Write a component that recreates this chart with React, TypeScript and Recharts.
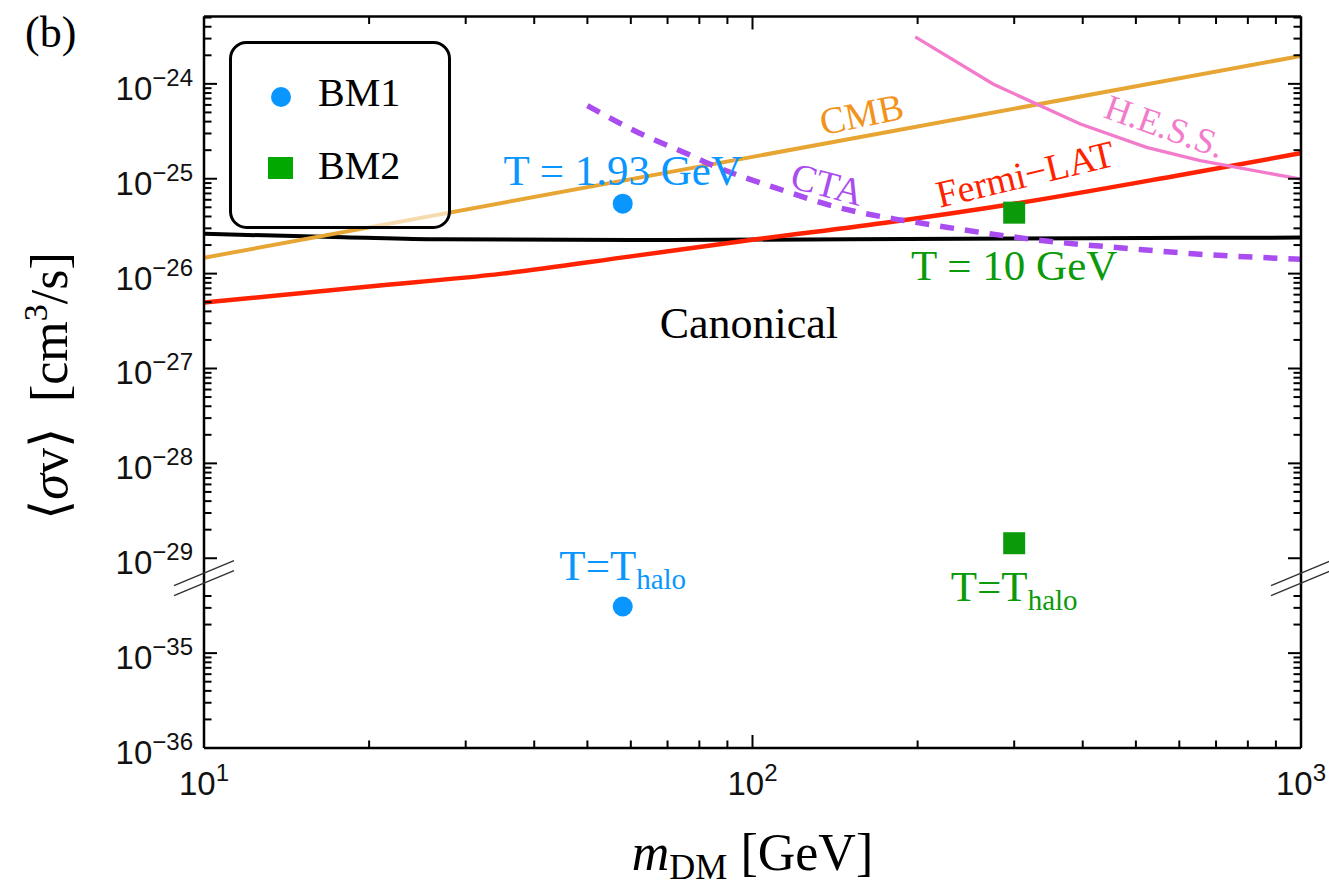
import { ComposedChart, Line, Scatter, XAxis, YAxis, ReferenceDot, Legend } from 'recharts'

// Dark-matter mass [GeV] and <σv> [cm^3/s] along each constraint curve
const canonicalMass = [10, 14, 18, 27, 60, 150, 400, 1000]
const canonicalSigma = [2.63e-26, 2.5e-26, 2.42e-26, 2.3e-26, 2.26e-26, 2.3e-26, 2.36e-26, 2.4e-26]

const cmbMass = [10, 100, 1000]
const cmbSigma = [1.47e-26, 1.7e-25, 1.97e-24]

const fermiMass = [10, 20, 35, 60, 100, 180, 300, 600, 1000]
const fermiSigma = [4.96e-27, 7.3e-27, 1.0e-26, 1.52e-26, 2.27e-26, 3.52e-26, 5.45e-26, 1.09e-25, 1.86e-25]

const ctaMass = [50, 62, 76, 85, 114, 143, 180, 200, 270, 340, 490, 635, 1000]
const ctaSigma = [
  5.9e-25, 3.05e-25, 1.83e-25, 1.37e-25, 7.5e-26, 5.0e-26, 3.8e-26, 3.45e-26, 2.64e-26, 2.22e-26, 1.83e-26,
  1.62e-26, 1.42e-26,
]

const hessMass = [198, 275, 396, 523, 655, 1000]
const hessSigma = [3.13e-24, 9.9e-25, 3.77e-25, 2.14e-25, 1.55e-25, 9.9e-26]

// Benchmarks: freeze-out value and the value at the halo temperature
const bmNames = ['BM1', 'BM2']
const bm1Mass = [58, 58]
const bm1Sigma = [5.46e-26, 3.1e-35]
const bm1Label = ['T = 1.93 GeV', 'T=T']
const bm1LabelSub = ['', 'halo']
const bm2Mass = [300, 300]
const bm2Sigma = [4.39e-26, 1.44e-29]
const bm2Label = ['T = 10 GeV', 'T=T']
const bm2LabelSub = ['', 'halo']

// Axis ticks
const xMajor = [10, 100, 1000]
const xMinor = [20, 30, 40, 50, 60, 70, 80, 90, 200, 300, 400, 500, 600, 700, 800, 900]
const yExponents = [-36, -35, -29, -28, -27, -26, -25, -24]

// The y axis is log10 with a break: 1e-29 sits directly on top of 1e-34
const BREAK_HI = -29
const BREAK_LO = -34
const toAxis = (v: number) => {
  const e = Math.log10(v)
  return e >= BREAK_HI ? e : e + (BREAK_HI - BREAK_LO)
}
const expToAxis = (e: number) => (e >= BREAK_HI ? e : e + (BREAK_HI - BREAK_LO))
const axisToExp = (d: number) => (d >= BREAK_HI - 0.001 ? d : d - (BREAK_HI - BREAK_LO))

const yMajor = yExponents.map(expToAxis)
const Y_MIN = -31
const Y_MAX = -23.29
const yMinor: number[] = []
for (let d = -31; d < -23; d++) {
  for (let k = 2; k <= 9; k++) {
    const t = d + Math.log10(k)
    if (d === -30 && k > 4) continue // hidden by the break
    if (t < Y_MAX) yMinor.push(t)
  }
}

const toRows = (mass: number[], sigma: number[]) => mass.map((m, i) => ({ m, d: toAxis(sigma[i]) }))
const toPoints = (mass: number[], sigma: number[], label: string[], sub: string[]) =>
  mass.map((m, i) => ({ m, d: toAxis(sigma[i]), label: label[i], sub: sub[i], i }))

const bm1Points = toPoints(bm1Mass, bm1Sigma, bm1Label, bm1LabelSub)
const bm2Points = toPoints(bm2Mass, bm2Sigma, bm2Label, bm2LabelSub)

const SERIF = '"Liberation Serif", "Times New Roman", Times, serif'
const SANS = '"Liberation Sans", Arial, Helvetica, sans-serif'
const BLUE = '#0A96FF'
const GREEN = '#0A9A0A'
const LEGEND_GREEN = '#00A800'

const curves = [
  { key: 'canonical', data: toRows(canonicalMass, canonicalSigma), color: '#000000', width: 4, type: 'monotone', dash: undefined },
  { key: 'cmb', data: toRows(cmbMass, cmbSigma), color: '#E7A634', width: 4, type: 'linear', dash: undefined },
  { key: 'fermi', data: toRows(fermiMass, fermiSigma), color: '#FF2200', width: 4.5, type: 'monotone', dash: undefined },
  { key: 'cta', data: toRows(ctaMass, ctaSigma), color: '#A94CF0', width: 5.5, type: 'monotone', dash: '14 11' },
  { key: 'hess', data: toRows(hessMass, hessSigma), color: '#F27CCB', width: 3.3, type: 'linear', dash: undefined },
] as const

// Curve names written along the curves
const annotations = [
  { text: 'CMB', m: 158, v: 4.83e-25, angle: -11.5, color: '#F2931C', size: 38 },
  { text: 'CTA', m: 137, v: 8.85e-26, angle: 14.7, color: '#A94CF0', size: 38 },
  { text: 'Fermi\u2212LAT', m: 314, v: 1.13e-25, angle: -13.5, color: '#FF2200', size: 38 },
  { text: 'H.E.S.S.', m: 565, v: 3.61e-25, angle: 19.6, color: '#F27CCB', size: 36 },
  { text: 'Canonical', m: 98.5, v: 3.05e-27, angle: 0, color: '#000000', size: 44 },
]

const frame = { stroke: '#000', strokeWidth: 2.5 }
const tickStroke = { stroke: '#000', strokeWidth: 2 }
// mirrored axes only draw the frame and ticks; a tiny size keeps them rendered without shifting each other
const THIN = 0.01
const NoLabel = () => <g />

function XTick({ x, y, payload }: any) {
  const exp = Math.round(Math.log10(payload.value))
  return (
    <text x={x} y={y + 47} textAnchor="middle" fontFamily={SANS} fill="#111">
      <tspan fontSize={33}>10</tspan>
      <tspan fontSize={24} dy={-14}>
        {exp}
      </tspan>
    </text>
  )
}

function YTick({ x, y, payload }: any) {
  const exp = Math.round(axisToExp(payload.value))
  return (
    <text x={x} y={y + 16} textAnchor="end" fontFamily={SANS} fill="#111">
      <tspan fontSize={33}>10</tspan>
      <tspan fontSize={24} dy={-14}>
        {`\u2212${-exp}`}
      </tspan>
    </text>
  )
}

const tempLabel = (color: string, dys: number[]) => (p: any) => {
  const { cx, cy, payload } = p
  return (
    <text x={cx} y={cy + dys[payload.i]} textAnchor="middle" fontFamily={SERIF} fontSize={43} fill={color}>
      {payload.label}
      {payload.sub ? (
        <tspan fontSize={29} dy={9}>
          {payload.sub}
        </tspan>
      ) : null}
    </text>
  )
}

function BreakMark({ cx, cy }: any) {
  return (
    <g stroke="#333" strokeWidth={1.5}>
      <line x1={cx - 30} y1={cy - 5 + 12.5} x2={cx + 30} y2={cy - 5 - 12.5} />
      <line x1={cx - 30} y1={cy + 5 + 12.5} x2={cx + 30} y2={cy + 5 - 12.5} />
    </g>
  )
}

function LegendBox() {
  return (
    <svg width={222} height={188} style={{ display: 'block' }}>
      <rect x={1.5} y={1.5} width={219} height={185} rx={16} fill="rgba(255,255,255,0.6)" stroke="#000" strokeWidth={3} />
      <circle cx={52} cy={56} r={10} fill={BLUE} />
      <text x={89} y={65} fontFamily={SERIF} fontSize={40} fill="#000">
        {bmNames[0]}
      </text>
      <rect x={39} y={116} width={25} height={22} fill={LEGEND_GREEN} />
      <text x={89} y={138} fontFamily={SERIF} fontSize={40} fill="#000">
        {bmNames[1]}
      </text>
    </svg>
  )
}

const xCommon = {
  type: 'number' as const,
  scale: 'log' as const,
  domain: [10, 1000],
  allowDataOverflow: true,
  interval: 0 as const,
}
const yCommon = {
  type: 'number' as const,
  domain: [Y_MIN, Y_MAX],
  allowDataOverflow: true,
  interval: 0 as const,
}

// hidden series so every frame axis has something attached
const axisPairs = [
  ['xb', 'yl'],
  ['xbm', 'ylm'],
  ['xt', 'yr'],
  ['xtm', 'yrm'],
]
const anchorRows = toRows(cmbMass, cmbSigma)

export default function App() {
  return (
    <div style={{ position: 'absolute', left: 0, top: 0, width: 1329, height: 890, background: '#fff' }}>
      <ComposedChart width={1329} height={890} margin={{ top: 16.5, right: 28, left: 84, bottom: 102 }}>
        {/* tick labels */}
        <XAxis xAxisId="x" dataKey="m" {...xCommon} ticks={xMajor} height={40} tickSize={0} tickMargin={0} axisLine={false} tickLine={false} tick={(p: any) => <XTick {...p} />} />
        <YAxis yAxisId="y" dataKey="d" {...yCommon} ticks={yMajor} width={120} tickSize={0} tickMargin={11} axisLine={false} tickLine={false} tick={(p: any) => <YTick {...p} />} />

        {/* frame with inward ticks on all four sides */}
        <XAxis xAxisId="xb" dataKey="m" {...xCommon} ticks={xMajor} mirror height={THIN} tickSize={13} tick={NoLabel} axisLine={frame} tickLine={tickStroke} />
        <XAxis xAxisId="xbm" dataKey="m" {...xCommon} ticks={xMinor} mirror height={THIN} tickSize={7.5} tick={NoLabel} axisLine={false} tickLine={tickStroke} />
        <XAxis xAxisId="xt" dataKey="m" orientation="top" {...xCommon} ticks={xMajor} mirror height={THIN} tickSize={13} tick={NoLabel} axisLine={frame} tickLine={tickStroke} />
        <XAxis xAxisId="xtm" dataKey="m" orientation="top" {...xCommon} ticks={xMinor} mirror height={THIN} tickSize={7.5} tick={NoLabel} axisLine={false} tickLine={tickStroke} />
        <YAxis yAxisId="yl" dataKey="d" {...yCommon} ticks={yMajor} mirror width={THIN} tickSize={13} tick={NoLabel} axisLine={frame} tickLine={tickStroke} />
        <YAxis yAxisId="ylm" dataKey="d" {...yCommon} ticks={yMinor} mirror width={THIN} tickSize={7.5} tick={NoLabel} axisLine={false} tickLine={tickStroke} />
        <YAxis yAxisId="yr" dataKey="d" orientation="right" {...yCommon} ticks={yMajor} mirror width={THIN} tickSize={13} tick={NoLabel} axisLine={frame} tickLine={tickStroke} />
        <YAxis yAxisId="yrm" dataKey="d" orientation="right" {...yCommon} ticks={yMinor} mirror width={THIN} tickSize={7.5} tick={NoLabel} axisLine={false} tickLine={tickStroke} />

        {axisPairs.map(([xa, ya]) => (
          <Line
            key={xa}
            xAxisId={xa}
            yAxisId={ya}
            data={anchorRows}
            dataKey="d"
            stroke="none"
            dot={false}
            activeDot={false}
            legendType="none"
            isAnimationActive={false}
          />
        ))}

        {/* benchmark markers */}
        <Scatter xAxisId="x" yAxisId="y" data={bm1Points} isAnimationActive={false} legendType="none" shape={(p: any) => <circle cx={p.cx} cy={p.cy} r={10} fill={BLUE} />} />
        <Scatter xAxisId="x" yAxisId="y" data={bm2Points} isAnimationActive={false} legendType="none" shape={(p: any) => <rect x={p.cx - 11} y={p.cy - 11} width={22} height={22} fill={GREEN} />} />

        {curves.map((c) => (
          <Line
            key={c.key}
            xAxisId="x"
            yAxisId="y"
            data={c.data as any}
            dataKey="d"
            type={c.type}
            stroke={c.color}
            strokeWidth={c.width}
            strokeDasharray={c.dash}
            dot={false}
            activeDot={false}
            legendType="none"
            isAnimationActive={false}
          />
        ))}

        {/* temperature labels next to the benchmarks */}
        <Scatter xAxisId="x" yAxisId="y" data={bm1Points} isAnimationActive={false} legendType="none" shape={tempLabel(BLUE, [-19, -27])} />
        <Scatter xAxisId="x" yAxisId="y" data={bm2Points} isAnimationActive={false} legendType="none" shape={tempLabel(GREEN, [67, 58])} />

        {annotations.map((a) => (
          <ReferenceDot
            key={a.text}
            xAxisId="x"
            yAxisId="y"
            x={a.m}
            y={toAxis(a.v)}
            ifOverflow="visible"
            shape={(p: any) => (
              <text
                x={p.cx}
                y={p.cy}
                dy="0.35em"
                textAnchor="middle"
                transform={`rotate(${a.angle}, ${p.cx}, ${p.cy})`}
                fontFamily={SERIF}
                fontSize={a.size}
                fill={a.color}
              >
                {a.text}
              </text>
            )}
          />
        ))}

        {/* axis break marks on both sides */}
        <ReferenceDot xAxisId="x" yAxisId="y" x={10} y={-29.21} ifOverflow="visible" shape={(p: any) => <BreakMark {...p} />} />
        <ReferenceDot xAxisId="x" yAxisId="y" x={1000} y={-29.21} ifOverflow="visible" shape={(p: any) => <BreakMark {...p} />} />

        <Legend
          layout="vertical"
          align="center"
          verticalAlign="middle"
          wrapperStyle={{ left: 229, top: 41, width: 222, height: 188 }}
          content={() => <LegendBox />}
        />
      </ComposedChart>

      {/* panel tag and axis titles */}
      <svg width={1329} height={890} style={{ position: 'absolute', left: 0, top: 0, pointerEvents: 'none' }}>
        <text x={25} y={47} fontFamily={SERIF} fontSize={44} fill="#000">
          (b)
        </text>
        <text x={752.5} y={870} textAnchor="middle" fontFamily={SERIF} fontSize={52} fill="#000">
          <tspan fontStyle="italic">m</tspan>
          <tspan fontSize={36} dy={9}>
            DM
          </tspan>
          <tspan dy={-9}> [GeV]</tspan>
        </text>
        <text x={67} y={386} textAnchor="middle" transform="rotate(-90, 67, 386)" fontFamily={SERIF} fontSize={52} fill="#000">
          {'\u27E8'}
          <tspan fontStyle="italic">σ</tspan>
          {'v\u27E9\u00A0\u00A0[cm'}
          <tspan fontSize={34} dy={-20}>
            3
          </tspan>
          <tspan dy={20}>/s]</tspan>
        </text>
      </svg>
    </div>
  )
}
